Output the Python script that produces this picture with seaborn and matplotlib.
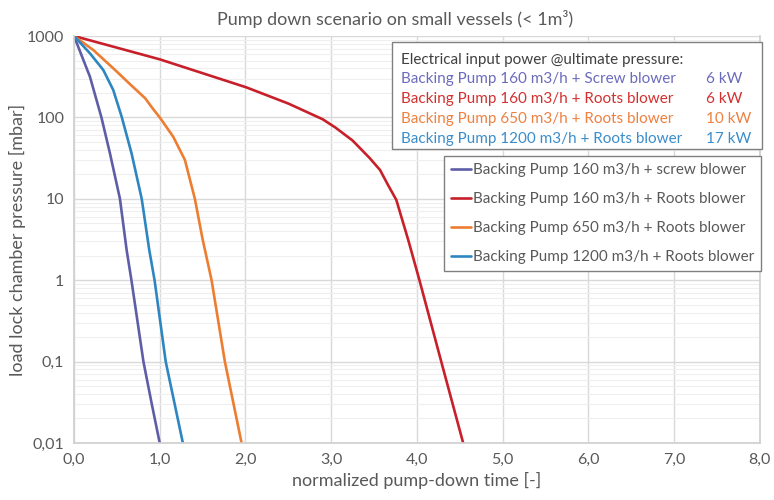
import numpy as np
import pandas as pd
import seaborn as sns
import matplotlib.pyplot as plt
from matplotlib.patches import Rectangle
from matplotlib.ticker import FixedLocator, LogLocator, NullFormatter

# --------------------------- DATA ---------------------------
series_names = [
    "Backing Pump 160 m3/h + screw blower",
    "Backing Pump 160 m3/h + Roots blower",
    "Backing Pump 650 m3/h + Roots blower",
    "Backing Pump 1200 m3/h + Roots blower",
]

t_screw160 = [0.0, 0.186, 0.32, 0.42, 0.536, 0.614, 0.67, 0.81, 0.905, 1.0]
p_screw160 = [1000, 316, 100, 36, 10, 2.35, 1, 0.1, 0.031, 0.01]

t_roots160 = [0.0, 1.0, 2.01, 2.5, 2.9, 3.05, 3.25, 3.45, 3.57, 3.66, 3.76, 3.90, 4.03, 4.29, 4.54]
p_roots160 = [1000, 517, 234, 148, 95, 75, 52, 31.6, 22.6, 15, 9.7, 3.1, 1, 0.095, 0.01]

t_roots650 = [0.0, 0.225, 0.48, 0.65, 0.83, 0.92, 1.0, 1.157, 1.294, 1.41, 1.50, 1.605, 1.76, 1.955]
p_roots650 = [1000, 673, 382, 258, 172, 128, 100, 58, 30, 10, 3.2, 1, 0.1, 0.01]

t_roots1200 = [0.0, 0.186, 0.342, 0.458, 0.556, 0.672, 0.79, 0.878, 0.94, 1.07, 1.27]
p_roots1200 = [1000, 613, 382, 217, 102, 36, 10, 2.35, 1, 0.1, 0.01]

power_labels = [
    "Backing Pump 160 m3/h + Screw blower",
    "Backing Pump 160 m3/h + Roots blower",
    "Backing Pump 650 m3/h + Roots blower",
    "Backing Pump 1200 m3/h + Roots blower",
]
power_kw = ["6 kW", "6 kW", "10 kW", "17 kW"]

x_ticks = [0, 1, 2, 3, 4, 5, 6, 7, 8]
x_ticklabels = ["0,0", "1,0", "2,0", "3,0", "4,0", "5,0", "6,0", "7,0", "8,0"]
y_ticks = [0.01, 0.1, 1, 10, 100, 1000]
y_ticklabels = ["0,01", "0,1", "1", "10", "100", "1000"]

line_colors = ["#5E5EA8", "#C8202A", "#ED7D31", "#2E86C1"]
text_colors = ["#6B6BBE", "#D3302F", "#EE8040", "#3A8DCB"]

df = pd.concat([
    pd.DataFrame({"t": t_screw160, "p": p_screw160, "series": series_names[0]}),
    pd.DataFrame({"t": t_roots160, "p": p_roots160, "series": series_names[1]}),
    pd.DataFrame({"t": t_roots650, "p": p_roots650, "series": series_names[2]}),
    pd.DataFrame({"t": t_roots1200, "p": p_roots1200, "series": series_names[3]}),
], ignore_index=True)

# --------------------------- STYLE ---------------------------
sns.set_theme(style="whitegrid")
plt.rcParams['font.family'] = ['Lato', 'DejaVu Sans']
grey = "#595959"

fig = plt.figure(figsize=(7.74, 5.0), dpi=100)
ax = fig.add_axes([0.0956, 0.114, 0.886, 0.814])

sns.lineplot(
    data=df, x="t", y="p", hue="series", hue_order=series_names,
    palette=dict(zip(series_names, line_colors)),
    estimator=None, sort=False, linewidth=1.9, ax=ax, legend=True,
)

ax.set_yscale("log")
ax.set_xlim(0, 8)
ax.set_ylim(0.01, 1000)
ax.xaxis.set_major_locator(FixedLocator(x_ticks))
ax.set_xticklabels(x_ticklabels)
ax.yaxis.set_major_locator(FixedLocator(y_ticks))
ax.set_yticklabels(y_ticklabels)
ax.yaxis.set_minor_locator(LogLocator(base=10, subs=np.arange(2, 10)))
ax.yaxis.set_minor_formatter(NullFormatter())

ax.grid(which="major", color="#D9D9D9", linewidth=1.0)
ax.grid(which="minor", axis="y", color="#EFEFEF", linewidth=0.8)
ax.tick_params(axis="both", which="both", length=0, colors=grey, labelsize=11.5, pad=7)
for side in ["left", "bottom", "right"]:
    ax.spines[side].set_color("#D0D0D0")
ax.spines["top"].set_visible(False)

ax.set_xlabel("normalized pump-down time [-]", color=grey, fontsize=13, labelpad=4)
ax.set_ylabel("load lock chamber pressure [mbar]", color=grey, fontsize=13, labelpad=1)
fig.text(0.51, 0.962, "Pump down scenario on small vessels (< 1m³)", color=grey,
         fontsize=13, ha="center", va="center")

# ---------------------- POWER INFO BOX ----------------------
box = Rectangle((0.4636, 0.722), 0.54, 0.263, transform=ax.transAxes,
                facecolor="white", edgecolor="#808080", linewidth=1.0,
                clip_on=False, zorder=5)
ax.add_patch(box)
ax.text(0.477, 0.941, "Electrical input power @ultimate pressure:", transform=ax.transAxes,
        color="#404040", fontsize=11, va="center", ha="left", zorder=6)
for i, (lab, kw) in enumerate(zip(power_labels, power_kw)):
    yy = 0.895 - i * 0.0495
    ax.text(0.477, yy, lab, transform=ax.transAxes, color=text_colors[i],
            fontsize=11, va="center", ha="left", zorder=6)
    ax.text(0.921, yy, kw, transform=ax.transAxes, color=text_colors[i],
            fontsize=11, va="center", ha="left", zorder=6)

# ------------------------- LEGEND -------------------------
leg = ax.legend(loc="upper right", bbox_to_anchor=(1.002, 0.705), frameon=True,
                fancybox=False, edgecolor="#808080", framealpha=1.0,
                fontsize=11, labelspacing=0.98, handlelength=1.35,
                handletextpad=0.1, borderpad=0.45, borderaxespad=0)
leg.get_frame().set_linewidth(1.0)
for txt in leg.get_texts():
    txt.set_color(grey)
leg.set_zorder(7)

fig.savefig("out.png", dpi=100)
